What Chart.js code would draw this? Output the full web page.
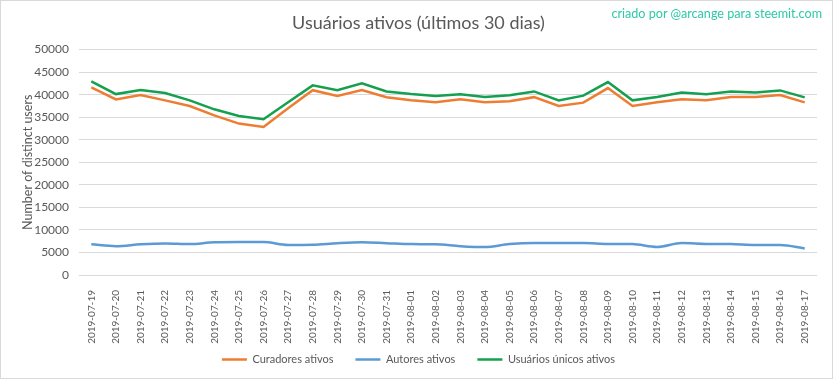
<!DOCTYPE html>
<html>
<head>
<meta charset="utf-8">
<script src="https://cdn.jsdelivr.net/npm/chart.js@4"></script>
<style>
  html, body { margin: 0; padding: 0; background: #fff; }
  #wrap { position: relative; width: 833px; height: 379px; }
  #frame { position: absolute; left: 0; top: 0; width: 831px; height: 377px; border: 1px solid #D9D9D9; pointer-events: none; }
  #credit { position: absolute; top: 6px; right: 11px; font-family: Lato, sans-serif; font-size: 12.6px; color: #2DC9A6; white-space: nowrap; }
</style>
</head>
<body>
<div id="wrap">
  <canvas id="c" width="833" height="379"></canvas>
  <div id="credit">criado por @arcange para steemit.com</div>
  <div id="frame"></div>
</div>
<script>
const categories = ["2019-07-19","2019-07-20","2019-07-21","2019-07-22","2019-07-23","2019-07-24","2019-07-25","2019-07-26","2019-07-27","2019-07-28","2019-07-29","2019-07-30","2019-07-31","2019-08-01","2019-08-02","2019-08-03","2019-08-04","2019-08-05","2019-08-06","2019-08-07","2019-08-08","2019-08-09","2019-08-10","2019-08-11","2019-08-12","2019-08-13","2019-08-14","2019-08-15","2019-08-16","2019-08-17"];
const curadores = [41600,38960,39910,38740,37480,35420,33590,32840,37000,41000,39700,41020,39450,38740,38300,38960,38300,38520,39450,37480,38230,41460,37480,38300,38960,38740,39470,39470,39910,38300];
const autores = [6800,6400,6800,7000,6850,7250,7300,7300,6650,6700,7050,7250,7050,6850,6800,6400,6200,6850,7100,7100,7100,6900,6850,6200,7100,6900,6850,6650,6650,5900];
const unicos = [42940,40130,41020,40350,38740,36750,35270,34540,38300,42060,41000,42500,40720,40130,39700,40070,39470,39850,40720,38740,39780,42790,38740,39470,40500,40070,40720,40500,40950,39400];
const yTicks = { min: 0, max: 50000, step: 5000 };
const titleText = "Usuários ativos (últimos 30 dias)";
const yTitle = "Number of distinct users";

const FONT = "Lato, 'Liberation Sans', sans-serif";
const GREY = "#595959";

const noLabelClip = {
  id: 'noLabelClip',
  beforeDraw(chart) { chart.scales.x._computeLabelArea = () => undefined; }
};

new Chart(document.getElementById('c'), {
  type: 'line',
  data: {
    labels: categories,
    datasets: [
      { label: 'Curadores ativos', data: curadores, borderColor: '#ED7D31', backgroundColor: '#ED7D31', borderWidth: 2.5, pointRadius: 0, pointStyle: 'line', tension: 0 },
      { label: 'Autores ativos', data: autores, borderColor: '#5B9BD5', backgroundColor: '#5B9BD5', borderWidth: 2.5, pointRadius: 0, pointStyle: 'line', tension: 0.4, cubicInterpolationMode: 'monotone' },
      { label: 'Usuários únicos ativos', data: unicos, borderColor: '#14A04F', backgroundColor: '#14A04F', borderWidth: 2.5, pointRadius: 0, pointStyle: 'line', tension: 0 }
    ]
  },
  plugins: [noLabelClip],
  options: {
    responsive: false,
    animation: false,
    layout: { padding: { left: 20, right: 16, top: 0, bottom: 4 } },
    plugins: {
      title: {
        display: true, text: titleText, color: GREY,
        font: { family: FONT, size: 18, weight: 'normal' },
        padding: { top: 12, bottom: 16 }
      },
      legend: {
        position: 'bottom',
        labels: {
          usePointStyle: true, pointStyleWidth: 25, color: GREY,
          font: { family: FONT, size: 11 }, padding: 22, boxHeight: 11
        }
      },
      tooltip: { enabled: false }
    },
    scales: {
      x: {
        offset: true,
        grid: { display: false },
        border: { display: false },
        ticks: { color: GREY, font: { family: FONT, size: 10 }, minRotation: 90, maxRotation: 90, autoSkip: false, padding: 7 },
        afterFit: (s) => { s.height = 57; }
      },
      y: {
        min: yTicks.min, max: yTicks.max,
        grid: { color: '#D9D9D9', lineWidth: 1, drawTicks: false },
        border: { display: false },
        ticks: { stepSize: yTicks.step, color: GREY, font: { family: FONT, size: 12 }, padding: 10, callback: (v) => String(v) },
        title: { display: true, text: yTitle, color: GREY, font: { family: FONT, size: 12.5 }, padding: { top: 0, bottom: 2 } },
        afterFit: (s) => { s.width = 59; }
      }
    }
  }
});
</script>
</body>
</html>
